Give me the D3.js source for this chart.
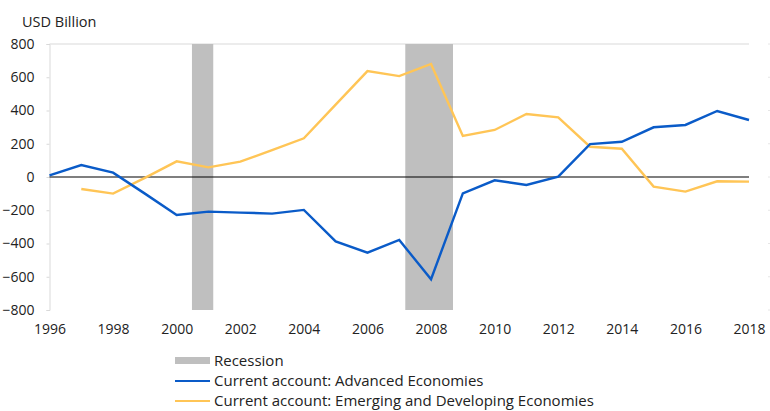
<!DOCTYPE html>
<html>
<head>
<meta charset="utf-8">
<script src="https://cdn.jsdelivr.net/npm/d3@7"></script>
<style>
  body { margin: 0; background: #fff; }
  text { font-family: "Open Sans", "Noto Sans", sans-serif; fill: #222; }
</style>
</head>
<body>
<script>
// data
var years = d3.range(1996, 2019);
var advanced = [10, 72, 26, -100, -228, -208, -214, -220, -198, -387, -455, -379, -615,
                -98, -20, -48, 2, 198, 212, 299, 313, 397, 343];
var emerging = [null, -72, -100, -5, 94, 58, 92, 162, 233, 435, 637, 607, 680,
                247, 283, 379, 359, 182, 170, -58, -88, -26, -28];
var recessions = [[2000.48, 2001.15], [2007.19, 2008.69]];
var yTicks = [-800, -600, -400, -200, 0, 200, 400, 600, 800];
var xTicks = [1996, 1998, 2000, 2002, 2004, 2006, 2008, 2010, 2012, 2014, 2016, 2018];

var w = 770, h = 411;
var blue = "#0a5bc8", yellow = "#ffc556", grey = "#bfbfbf";

var svg = d3.select("body").append("svg")
  .attr("width", w)
  .attr("height", h);

var x = d3.scaleLinear().domain([1996, 2018]).range([49.5, 749]);
var y = d3.scaleLinear().domain([-800, 800]).range([310, 44]);

// top gridline
svg.append("line")
  .attr("x1", x(1996)).attr("x2", x(2018))
  .attr("y1", y(800)).attr("y2", y(800))
  .attr("stroke", "#d9d9d9");

// faint right-hand ticks (cut-off secondary axis)
svg.selectAll(".rt").data(yTicks).enter().append("line")
  .attr("x1", 768).attr("x2", 770)
  .attr("y1", function(d) { return y(d); })
  .attr("y2", function(d) { return y(d); })
  .attr("stroke", "#e6e6e6");

// recession bands
svg.selectAll(".rec").data(recessions).enter().append("rect")
  .attr("x", function(d) { return x(d[0]); })
  .attr("width", function(d) { return x(d[1]) - x(d[0]); })
  .attr("y", y(800))
  .attr("height", y(-800) - y(800))
  .attr("fill", grey);

// y axis
var yAxis = svg.append("g")
  .attr("transform", "translate(" + x(1996) + ",0)")
  .call(d3.axisLeft(y).tickValues(yTicks).tickSize(3).tickPadding(12));
yAxis.select(".domain").attr("stroke", "#d9d9d9");
yAxis.selectAll(".tick line").attr("stroke", "#d9d9d9");
yAxis.selectAll("text").style("font-size", "14px").attr("fill", "#222");

// x axis labels
var xAxis = svg.append("g")
  .attr("transform", "translate(0," + y(-800) + ")")
  .call(d3.axisBottom(x).tickValues(xTicks).tickFormat(d3.format("d")).tickSize(0).tickPadding(14));
xAxis.select(".domain").remove();
xAxis.selectAll("text").style("font-size", "14px").attr("fill", "#222");

// zero line
svg.append("line")
  .attr("x1", x(1996)).attr("x2", x(2018))
  .attr("y1", y(0)).attr("y2", y(0))
  .attr("stroke", "#000").attr("stroke-width", 1.2);

var line = d3.line()
  .defined(function(d) { return d[1] != null; })
  .x(function(d) { return x(d[0]); })
  .y(function(d) { return y(d[1]); });

svg.append("path")
  .datum(years.map(function(yr, i) { return [yr, emerging[i]]; }))
  .attr("d", line)
  .attr("fill", "none").attr("stroke", yellow).attr("stroke-width", 2.4);

svg.append("path")
  .datum(years.map(function(yr, i) { return [yr, advanced[i]]; }))
  .attr("d", line)
  .attr("fill", "none").attr("stroke", blue).attr("stroke-width", 2.4);

// unit label
svg.append("text").attr("x", 22).attr("y", 27)
  .style("font-size", "14.5px").text("USD Billion");

// legend
var lg = svg.append("g").attr("transform", "translate(175,0)");
lg.append("rect").attr("x", 0).attr("y", 357).attr("width", 35).attr("height", 7).attr("fill", grey);
lg.append("text").attr("x", 39).attr("y", 366).style("font-size", "15px").text("Recession");
lg.append("line").attr("x1", 0).attr("x2", 35).attr("y1", 381).attr("y2", 381)
  .attr("stroke", blue).attr("stroke-width", 2);
lg.append("text").attr("x", 39).attr("y", 386).style("font-size", "15px")
  .text("Current account: Advanced Economies");
lg.append("line").attr("x1", 0).attr("x2", 35).attr("y1", 401).attr("y2", 401)
  .attr("stroke", yellow).attr("stroke-width", 2);
lg.append("text").attr("x", 39).attr("y", 406).style("font-size", "15px")
  .text("Current account: Emerging and Developing Economies");
</script>
</body>
</html>
